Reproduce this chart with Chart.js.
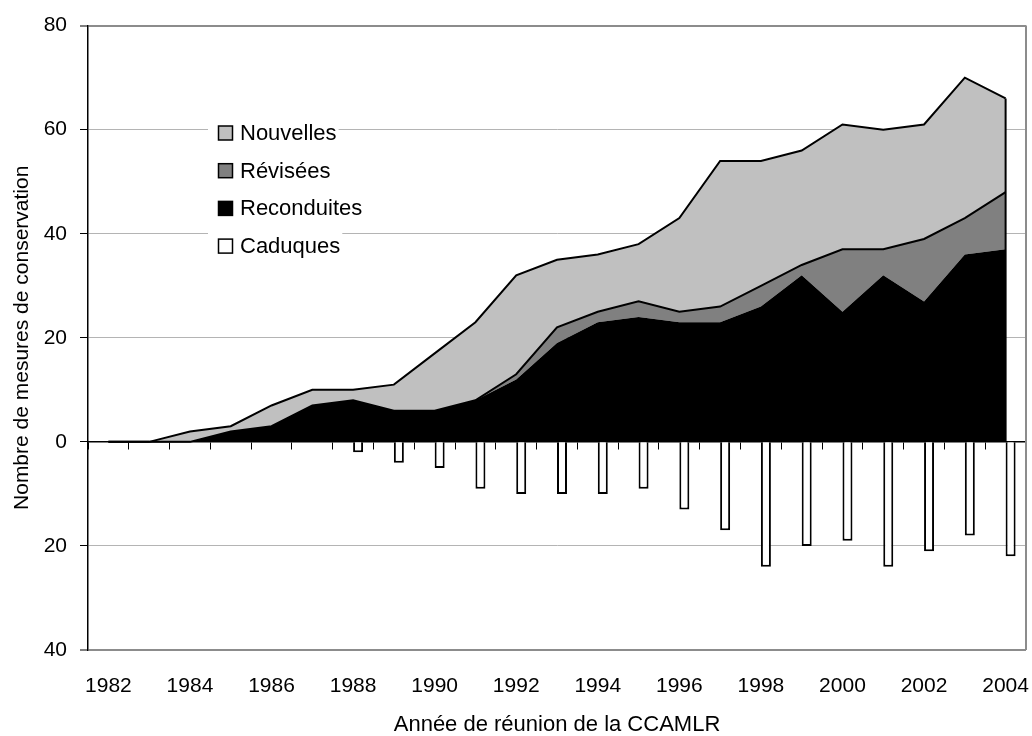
<!DOCTYPE html>
<html>
<head>
<meta charset="utf-8">
<script src="https://cdn.jsdelivr.net/npm/chart.js@4/dist/chart.umd.min.js"></script>
<style>
  body { margin: 0; background: #fff; }
  canvas { display: block; }
</style>
</head>
<body>
<canvas id="graf" width="1032" height="736"></canvas>
<script>
// Données
const annees = ['1982','1983','1984','1985','1986','1987','1988','1989','1990','1991','1992',
                '1993','1994','1995','1996','1997','1998','1999','2000','2001','2002','2003','2004'];
const reconduites = [0,0,0,2,3,7,8,6,6,8,12,19,23,24,23,23,26,32,25,32,27,36,37];
const revisees    = [0,0,0,0,0,0,0,0,0,0,1,3,2,3,2,3,4,2,12,5,12,7,11];
const nouvelles   = [0,0,2,1,4,3,2,5,11,15,19,13,11,11,18,28,24,22,24,23,22,27,18];
const caduques    = [0,0,0,0,0,0,2,4,5,9,10,10,10,9,13,17,24,20,19,24,21,18,22];
const yTicks = [-40, -20, 0, 20, 40, 60, 80];

const police = "'Liberation Sans', Arial, sans-serif";

// Légende dessinée dans la zone du graphique
const legende = {
    id: 'legende',
    afterDraw(chart) {
        const c = chart.ctx;
        const items = [
            { txt: 'Nouvelles', fond: '#c0c0c0' },
            { txt: 'Révisées', fond: '#808080' },
            { txt: 'Reconduites', fond: '#000000' },
            { txt: 'Caduques', fond: '#ffffff' }
        ];
        c.save();
        c.font = '22px ' + police;
        c.textBaseline = 'middle';
        items.forEach((it, i) => {
            const y = 133 + i * 37.7;
            const w = c.measureText(it.txt).width;
            c.fillStyle = '#fff';
            c.fillRect(208, y - 18, 240 - 208 + w + 2, 36);
            c.fillStyle = it.fond;
            c.fillRect(218.5, y - 7, 14, 14);
            c.lineWidth = 1.5;
            c.strokeStyle = '#000';
            c.strokeRect(218.5, y - 7, 14, 14);
            c.fillStyle = '#000';
            c.fillText(it.txt, 240, y + 1);
        });
        c.restore();
    }
};

// Cadre droit + bord vertical de la surface en 2004
const cadre = {
    id: 'cadre',
    afterDatasetsDraw(chart) {
        const c = chart.ctx;
        const a = chart.chartArea;
        c.save();
        c.strokeStyle = '#8c8c8c';
        c.lineWidth = 2;
        c.beginPath();
        c.moveTo(a.right, a.top);
        c.lineTo(a.right, a.bottom);
        c.stroke();
        const haut = chart.getDatasetMeta(2).data;
        const dernier = haut[haut.length - 1];
        const y0 = chart.scales.y.getPixelForValue(0);
        c.strokeStyle = '#000';
        c.beginPath();
        c.moveTo(dernier.x, dernier.y);
        c.lineTo(dernier.x, y0);
        c.stroke();
        c.restore();
    }
};

const ctx = document.getElementById('graf').getContext('2d');
new Chart(ctx, {
    type: 'line',
    data: {
        labels: annees,
        datasets: [
            {
                label: 'Reconduites',
                data: reconduites,
                stack: 'surface',
                fill: 'origin',
                backgroundColor: '#000000',
                borderColor: '#000000',
                borderWidth: 0,
                pointRadius: 0,
                tension: 0
            },
            {
                label: 'Révisées',
                data: revisees,
                stack: 'surface',
                fill: '-1',
                backgroundColor: '#808080',
                borderColor: '#000000',
                borderWidth: 2,
                pointRadius: 0,
                tension: 0
            },
            {
                label: 'Nouvelles',
                data: nouvelles,
                stack: 'surface',
                fill: '-1',
                backgroundColor: '#c0c0c0',
                borderColor: '#000000',
                borderWidth: 2,
                pointRadius: 0,
                tension: 0
            },
            {
                // série vide pour décaler les barres comme dans l'original
                type: 'bar',
                label: '',
                data: annees.map(() => null),
                stack: 'vide',
                categoryPercentage: 0.49,
                barPercentage: 1
            },
            {
                type: 'bar',
                label: 'Caduques',
                data: caduques.map(v => v === 0 ? null : -v),
                stack: 'caduques',
                backgroundColor: '#ffffff',
                borderColor: '#000000',
                borderWidth: 2,
                categoryPercentage: 0.49,
                barPercentage: 1
            }
        ]
    },
    options: {
        responsive: false,
        devicePixelRatio: 1,
        animation: false,
        layout: { padding: { top: 25, right: 6, left: 0, bottom: 0 } },
        plugins: {
            legend: { display: false },
            tooltip: { enabled: false }
        },
        scales: {
            x: {
                type: 'category',
                offset: true,
                grid: { display: false, offset: true },
                border: { display: false },
                ticks: {
                    autoSkip: false,
                    maxRotation: 0,
                    padding: 16,
                    color: '#000',
                    font: { family: police, size: 21 },
                    callback: function (v, i) {
                        return i % 2 === 0 ? this.getLabelForValue(v) : '';
                    }
                },
                title: {
                    display: true,
                    text: 'Année de réunion de la CCAMLR',
                    color: '#000',
                    font: { family: police, size: 22, lineHeight: 1 },
                    padding: 0
                },
                afterFit(scale) {
                    scale.height = 86;
                    scale.paddingLeft = 0;
                    scale.paddingRight = 0;
                }
            },
            x2: {
                type: 'category',
                position: { y: 0 },
                offset: true,
                grid: {
                    offset: true,
                    drawOnChartArea: false,
                    drawTicks: true,
                    tickLength: 7,
                    tickColor: '#000',
                    tickWidth: 1
                },
                border: { color: '#000', width: 1.5 },
                ticks: { display: false },
                afterFit(scale) {
                    scale.paddingLeft = 0;
                    scale.paddingRight = 0;
                }
            },
            y: {
                stacked: true,
                min: -40,
                max: 80,
                afterBuildTicks(scale) {
                    scale.ticks = yTicks.map(v => ({ value: v }));
                },
                grid: {
                    color: (c) => {
                        const v = c.tick.value;
                        if (v === 0) return 'rgba(0,0,0,0)';
                        if (v === 80 || v === -40) return '#8c8c8c';
                        return '#b4b4b4';
                    },
                    lineWidth: (c) => (c.tick.value === 80 || c.tick.value === -40) ? 2 : 1,
                    tickColor: '#000',
                    tickLength: 8,
                    tickWidth: 1
                },
                border: { color: '#000', width: 1.5 },
                ticks: {
                    padding: 13,
                    color: '#000',
                    font: { family: police, size: 21 },
                    callback: (v) => Math.abs(v)
                },
                title: {
                    display: true,
                    text: 'Nombre de mesures de conservation',
                    color: '#000',
                    font: { family: police, size: 21, lineHeight: 1 },
                    padding: { top: 12, bottom: 0 }
                },
                afterFit(scale) { scale.width = 88; }
            }
        }
    },
    plugins: [cadre, legende]
});
</script>
</body>
</html>
